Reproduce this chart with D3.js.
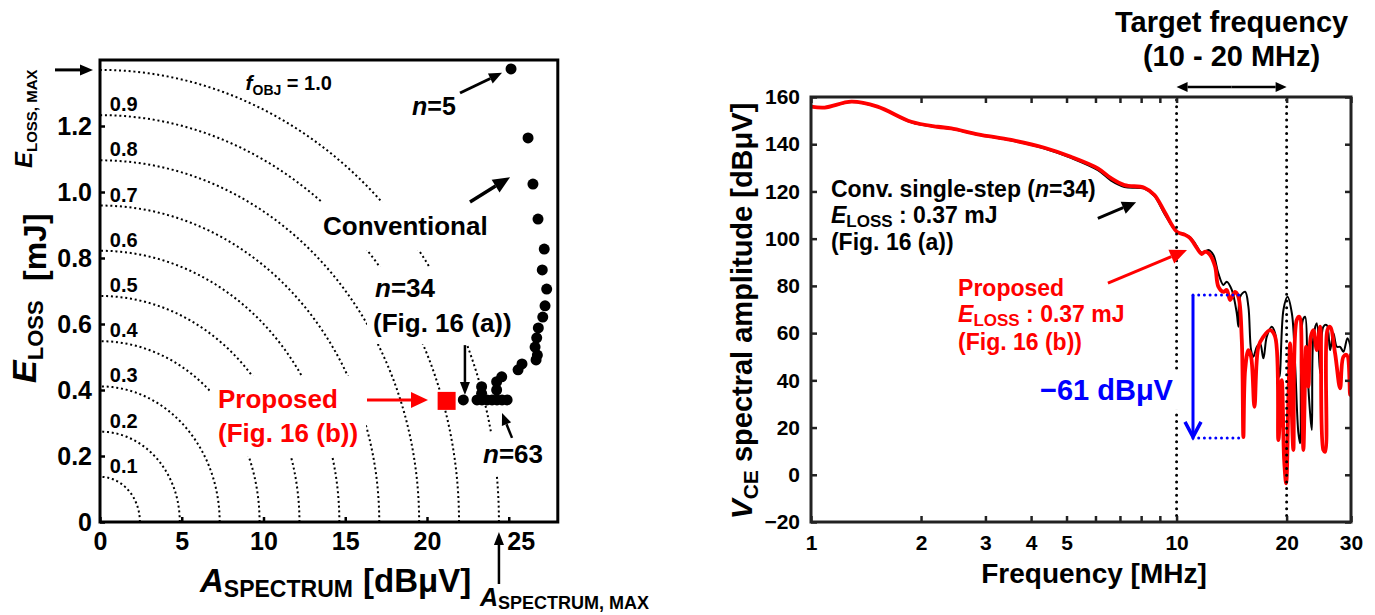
<!DOCTYPE html>
<html>
<head>
<meta charset="utf-8">
<script src="https://cdn.jsdelivr.net/npm/d3@7/dist/d3.min.js"></script>
<style>
  html, body { margin: 0; padding: 0; background: #fff; }
  svg { display: block; font-family: "Liberation Sans", Arial, sans-serif; font-weight: bold; }
</style>
</head>
<body>
<svg id="chart" width="1375" height="615"></svg>
<script>
// ---------- left panel: E_LOSS vs A_SPECTRUM ----------
const convA = [25.14, 26.18, 26.48, 26.79, 27.17, 27.05, 27.32, 27.22, 27.08, 26.81, 26.71, 26.61,
  26.75, 26.67, 25.81, 25.57, 24.57, 24.26, 23.34, 23.34, 24.26, 23.06, 23.36, 23.67, 23.98,
  24.28, 24.59, 24.90, 22.22];
const convE = [1.373, 1.164, 1.024, 0.918, 0.827, 0.764, 0.706, 0.655, 0.621, 0.588, 0.558, 0.530,
  0.506, 0.491, 0.479, 0.461, 0.440, 0.425, 0.410, 0.390, 0.400, 0.370, 0.370, 0.370, 0.370,
  0.370, 0.370, 0.370, 0.370];
const propA = [21.2];
const propE = [0.367];
const aSpecMax = 24.4;
const eLossMax = 1.37;
const fObjLevels = [0.1, 0.2, 0.3, 0.4, 0.5, 0.6, 0.7, 0.8, 0.9, 1.0];
const leftXTicks = [0, 5, 10, 15, 20, 25];
const leftYTicks = [0, 0.2, 0.4, 0.6, 0.8, 1.0, 1.2];

// ---------- right panel: V_CE spectrum ----------
const convFreq = [1.00, 1.09, 1.29, 1.52, 1.88, 2.22, 2.42, 2.86, 3.53, 4.35, 5.14, 6.09, 6.62, 7.20,
  8.16, 8.70, 9.27, 10.01, 10.55, 10.89, 11.23, 11.72, 12.22, 12.61, 13.01, 13.43, 13.72, 14.16,
  14.61, 14.76, 14.92, 15.40, 15.72, 15.99, 16.22, 16.58, 16.92, 17.28, 17.65, 18.21, 18.60, 19.11,
  19.60, 20.10, 20.67, 21.09, 21.54, 21.78, 22.15, 22.47, 22.80, 23.19, 23.44, 23.68, 24.19, 24.70,
  25.21, 25.76, 26.30, 26.85, 27.44, 28.01, 28.60, 29.33, 29.83, 30.0];
const convAmp = [155.9, 155.4, 157.9, 155.8, 149.3, 147.2, 146.5, 144.0, 141.6, 138.2, 134.2, 129.0,
  124.6, 121.9, 121.2, 118.0, 110.5, 103.0, 101.8, 100.6, 98.0, 94.0, 95.2, 93.1, 85.3, 80.4, 81.8,
  78.3, 68.4, 62.7, 75.4, 77.5, 71.2, 52.8, 50.0, 54.2, 55.6, 49.3, 58.5, 62.7, 59.9, 41.5, 69.8,
  75.4, 68.4, 47.2, 17.6, 13.3, 65.6, 66.9, 44.4, 26.0, 19.0, 58.5, 64.2, 43.0, 62.7, 63.4, 52.8,
  59.9, 54.2, 54.2, 52.1, 57.8, 55.0, 52.1];
const propFreq = [1.00, 1.09, 1.29, 1.52, 1.88, 2.22, 2.42, 2.86, 3.53, 4.35, 5.14, 6.09, 6.62, 7.20,
  8.16, 8.70, 9.27, 10.01, 10.55, 10.89, 11.23, 11.72, 11.97, 12.35, 12.75, 13.01, 13.43, 13.72,
  14.01, 14.45, 14.76, 15.08, 15.23, 15.40, 15.72, 15.99, 16.33, 16.74, 17.28, 18.02, 18.60, 18.99,
  19.40, 19.69, 19.94, 20.23, 20.44, 20.67, 20.87, 21.32, 21.68, 22.01, 22.23, 22.61, 22.94, 23.29,
  23.68, 24.19, 24.70, 25.21, 25.49, 25.86, 26.30, 27.14, 28.01, 28.60, 29.22, 29.83, 30.0];
const propAmp = [155.9, 155.5, 158.0, 155.9, 149.5, 147.4, 146.7, 144.2, 141.8, 138.5, 134.7, 129.8,
  125.6, 122.7, 121.6, 118.5, 111.4, 103.0, 101.6, 100.2, 97.3, 93.5, 94.5, 93.1, 88.1, 79.7, 77.5,
  78.3, 74.0, 77.5, 75.4, 57.1, 16.0, 44.4, 52.8, 50.0, 28.8, 54.2, 58.5, 61.3, 58.5, 14.7, 40.1,
  6.3, -3.6, 33.1, 55.6, 26.0, 10.5, 65.6, 66.9, 44.4, 10.5, 54.2, 37.3, 58.5, 61.3, 52.8, 62.7,
  10.5, 9.8, 61.3, 62.7, 51.4, 36.6, 50.0, 50.7, 33.8, 51.4];
const freqTicks = [1, 2, 3, 4, 5, 6, 7, 8, 9, 10, 20, 30];
const freqLabels = [1, 2, 3, 4, 5, 10, 20, 30];
const ampTicks = [-20, 0, 20, 40, 60, 80, 100, 120, 140, 160];
const targetBand = [10, 20];
const reduction = { f: 11.09, top: 76.1, bottom: 15.6, topEnd: 14.8, bottomEnd: 15.2 };

const svg = d3.select("#chart");

function arrow(g, x1, y1, x2, y2, color, w, hl, hw) {
  const ang = Math.atan2(y2 - y1, x2 - x1);
  const bx = x2 - hl * Math.cos(ang), by = y2 - hl * Math.sin(ang);
  g.append("line").attr("x1", x1).attr("y1", y1).attr("x2", bx).attr("y2", by)
    .attr("stroke", color).attr("stroke-width", w);
  const px = -Math.sin(ang) * hw / 2, py = Math.cos(ang) * hw / 2;
  g.append("path").attr("d", `M${x2},${y2}L${bx + px},${by + py}L${bx - px},${by - py}Z`).attr("fill", color);
}

function rich(g, x, y, parts, opts = {}) {
  const t = g.append("text").attr("x", x).attr("y", y).attr("fill", opts.fill || "#000");
  if (opts.anchor) t.attr("text-anchor", opts.anchor);
  if (opts.rotate) t.attr("transform", `rotate(-90,${x},${y})`);
  parts.forEach(p => {
    const s = t.append("tspan").text(p.t).attr("font-size", p.size);
    if (p.italic) s.attr("font-style", "italic");
    if (p.dy) s.attr("dy", p.dy);
    if (p.dx) s.attr("dx", p.dx);
  });
  return t;
}

// ================= LEFT =================
const xL = d3.scaleLinear().domain([0, 28]).range([100, 557.8]);
const yL = d3.scaleLinear().domain([0, 1.4]).range([522, 60]);
const left = svg.append("g");

left.append("clipPath").attr("id", "clipL").append("rect")
  .attr("x", xL(0)).attr("y", yL(1.4)).attr("width", xL(28) - xL(0)).attr("height", yL(0) - yL(1.4));

// f_OBJ contour arcs
const arcLine = d3.line().x(d => xL(d[0])).y(d => yL(d[1]));
const arcs = left.append("g").attr("clip-path", "url(#clipL)");
fObjLevels.forEach(k => {
  const pts = d3.range(0, 91).map(i => {
    const t = i / 90 * Math.PI / 2;
    return [k * aSpecMax * Math.cos(t), k * eLossMax * Math.sin(t)];
  });
  arcs.append("path").attr("d", arcLine(pts)).attr("fill", "none")
    .attr("stroke", "#000").attr("stroke-width", 2).attr("stroke-dasharray", "2,2.8");
});

// contour labels
fObjLevels.filter(k => k < 1).forEach(k => {
  left.append("text").attr("x", xL(0.6)).attr("y", yL(k * eLossMax) - 4)
    .attr("font-size", 20).text(k.toFixed(1));
});
rich(left, xL(8.9), yL(1.31), [
  { t: "f", size: 21, italic: true }, { t: "OBJ", size: 14, dy: 5 }, { t: " = 1.0", size: 20, dy: -5 }
]);

// text labels with white boxes to break the dotted arcs
const boxes = left.append("g");
const labels = left.append("g");
function boxed(nodes, pad) {
  const bb = nodes.map(n => n.node().getBBox());
  const x0 = d3.min(bb, b => b.x) - pad, x1 = d3.max(bb, b => b.x + b.width) + pad;
  const y0 = d3.min(bb, b => b.y) - pad, y1 = d3.max(bb, b => b.y + b.height) + pad;
  boxes.append("rect").attr("x", x0).attr("y", y0).attr("width", x1 - x0).attr("height", y1 - y0).attr("fill", "#fff");
}
boxed([labels.append("text").attr("x", 323).attr("y", 235).attr("font-size", 26).text("Conventional")], 9);
boxed([
  rich(labels, 375, 297, [{ t: "n", size: 26, italic: true }, { t: "=34", size: 26 }]),
  labels.append("text").attr("x", 373).attr("y", 332).attr("font-size", 26).text("(Fig. 16 (a))")
], 6);
boxed([rich(labels, 483, 463, [{ t: "n", size: 26, italic: true }, { t: "=63", size: 26 }])], 6);
boxed([
  labels.append("text").attr("x", 218).attr("y", 408).attr("font-size", 26).attr("fill", "#ff0000").text("Proposed"),
  labels.append("text").attr("x", 218).attr("y", 442).attr("font-size", 26).attr("fill", "#ff0000").text("(Fig. 16 (b))")
], 8);
rich(labels, 412, 115, [{ t: "n", size: 25, italic: true }, { t: "=5", size: 25 }]);

// points
left.append("g").selectAll("circle").data(convA.map((a, i) => [a, convE[i]])).join("circle")
  .attr("cx", d => xL(d[0])).attr("cy", d => yL(d[1])).attr("r", 5.5).attr("fill", "#000");
left.append("g").selectAll("rect").data(propA.map((a, i) => [a, propE[i]])).join("rect")
  .attr("x", d => xL(d[0]) - 9).attr("y", d => yL(d[1]) - 9).attr("width", 18).attr("height", 18)
  .attr("fill", "#ff0000");

// arrows
arrow(left, xL(22.02), yL(1.300), xL(24.59), yL(1.361), "#000", 3, 13, 11);
arrow(left, xL(22.63), yL(0.970), xL(25.08), yL(1.045), "#000", 3.5, 17, 15);
arrow(left, xL(22.32), yL(0.536), xL(22.32), yL(0.385), "#000", 2.5, 13, 10);
arrow(left, xL(25.20), yL(0.255), xL(24.59), yL(0.330), "#000", 2.5, 12, 10);
arrow(left, xL(16.33), yL(0.370), xL(20.06), yL(0.370), "#ff0000", 3, 17, 16);
arrow(left, xL(0) - 45, yL(eLossMax), xL(0) - 7, yL(eLossMax), "#000", 3, 13, 11);
arrow(left, xL(aSpecMax), yL(0) + 62, xL(aSpecMax), yL(0) + 10, "#000", 2.5, 13, 10);

// axes
const axL = left.append("g");
const bx = axL.append("g").attr("transform", `translate(0,${yL(0)})`)
  .call(d3.axisBottom(xL).tickValues(leftXTicks).tickSize(-5).tickPadding(10));
const by = axL.append("g").attr("transform", `translate(${xL(0)},0)`)
  .call(d3.axisLeft(yL).tickValues(leftYTicks).tickSize(-5).tickPadding(8)
    .tickFormat(d => d === 0 ? "0" : d.toFixed(1)));
[bx, by].forEach(a => {
  a.select(".domain").remove();
  a.selectAll("text").attr("font-family", null).attr("font-size", 25).attr("fill", "#000");
  a.selectAll("line").attr("stroke", "#000").attr("stroke-width", 2.5);
});
// the 25 label sits to the right of the A_SPECTRUM,MAX arrow
bx.selectAll(".tick text").filter(d => d === 25).attr("dx", 12);
left.append("rect").attr("x", xL(0)).attr("y", yL(1.4)).attr("width", xL(28) - xL(0))
  .attr("height", yL(0) - yL(1.4)).attr("fill", "none").attr("stroke", "#000").attr("stroke-width", 3);

// axis titles
rich(left, 200, 592, [{ t: "A", size: 33, italic: true }, { t: "SPECTRUM", size: 23, dy: 5 }]);
left.append("text").attr("x", 363).attr("y", 592).attr("font-size", 33).text("[dBμV]");
rich(left, 480, 606, [{ t: "A", size: 25, italic: true }, { t: "SPECTRUM, MAX", size: 18, dy: 3 }]);
rich(left, 36, 383, [{ t: "E", size: 34, italic: true }, { t: "LOSS", size: 22, dy: 7 }], { rotate: true });
rich(left, 46, 281, [{ t: "[mJ]", size: 32 }], { rotate: true });
rich(left, 32, 168, [{ t: "E", size: 24, italic: true }, { t: "LOSS, MAX", size: 15, dy: 5 }], { rotate: true });

// ================= RIGHT =================
const xR = d3.scaleLog().domain([1, 30]).range([811, 1351]);
const yR = d3.scaleLinear().domain([-20, 160]).range([522, 97]);
const right = svg.append("g");
right.append("clipPath").attr("id", "clipR").append("rect")
  .attr("x", xR(1)).attr("y", yR(160)).attr("width", xR(30) - xR(1)).attr("height", yR(-20) - yR(160));

const specLine = d3.line().x(d => xR(d[0])).y(d => yR(d[1])).curve(d3.curveCatmullRom.alpha(0.5));
const curves = right.append("g").attr("clip-path", "url(#clipR)");
curves.append("path").attr("d", specLine(convFreq.map((f, i) => [f, convAmp[i]])))
  .attr("fill", "none").attr("stroke", "#000").attr("stroke-width", 2);
curves.append("path").attr("d", specLine(propFreq.map((f, i) => [f, propAmp[i]])))
  .attr("fill", "none").attr("stroke", "#ff0000").attr("stroke-width", 3.8);

// target band dotted lines
targetBand.forEach(f => {
  right.append("line").attr("x1", xR(f)).attr("x2", xR(f)).attr("y1", yR(160) + 3).attr("y2", yR(-20))
    .attr("stroke", "#000").attr("stroke-width", 3).attr("stroke-linecap", "round")
    .attr("stroke-dasharray", "0,6.7");
});

// reduction annotation
[[reduction.top, reduction.topEnd], [reduction.bottom, reduction.bottomEnd]].forEach(([v, fe]) => {
  right.append("line").attr("x1", xR(reduction.f)).attr("x2", xR(fe)).attr("y1", yR(v)).attr("y2", yR(v))
    .attr("stroke", "#0000ff").attr("stroke-width", 3).attr("stroke-linecap", "round")
    .attr("stroke-dasharray", "0,5.7");
});
const rx = xR(reduction.f), tipY = yR(reduction.bottom);
right.append("line").attr("x1", rx).attr("x2", rx).attr("y1", yR(reduction.top)).attr("y2", tipY - 1)
  .attr("stroke", "#0000ff").attr("stroke-width", 3);
right.append("path").attr("d", `M${rx - 8},${tipY - 16}L${rx},${tipY - 1}L${rx + 8},${tipY - 16}`)
  .attr("fill", "none").attr("stroke", "#0000ff").attr("stroke-width", 3.5);

const dbText = right.append("text").attr("x", xR(4.23)).attr("y", yR(31.7)).attr("font-size", 29)
  .attr("fill", "#0000ff").text("\u221261 dB\u03bcV");
const dbb = dbText.node().getBBox();
right.insert("rect", "text").attr("x", dbb.x - 4).attr("y", dbb.y - 4)
  .attr("width", xR(10) + 4 - dbb.x + 4).attr("height", dbb.height + 8).attr("fill", "#fff");

// annotations
const txR = right.append("g");
txR.append("text").attr("x", xR(1.134)).attr("y", yR(117.6)).attr("font-size", 23)
  .selectAll("tspan").data([["Conv. single-step (", false], ["n", true], ["=34)", false]]).join("tspan")
  .attr("font-style", d => d[1] ? "italic" : null).text(d => d[0]);
rich(txR, xR(1.134), yR(106.6), [{ t: "E", size: 23, italic: true }, { t: "LOSS", size: 17, dy: 4 }, { t: " : 0.37 mJ", size: 23, dy: -4 }]);
txR.append("text").attr("x", xR(1.134)).attr("y", yR(95.2)).attr("font-size", 23).text("(Fig. 16 (a))");
txR.append("text").attr("x", xR(2.525)).attr("y", yR(75.7)).attr("font-size", 23).attr("fill", "#ff0000").text("Proposed");
rich(txR, xR(2.525), yR(64.7), [{ t: "E", size: 23, italic: true }, { t: "LOSS", size: 17, dy: 4 }, { t: " : 0.37 mJ", size: 23, dy: -4 }], { fill: "#ff0000" });
txR.append("text").attr("x", xR(2.525)).attr("y", yR(52.8)).attr("font-size", 23).attr("fill", "#ff0000").text("(Fig. 16 (b))");

arrow(right, xR(6.09), yR(108.6), xR(7.75), yR(115.4), "#000", 3, 14, 13);
arrow(right, xR(6.49), yR(81.2), xR(10.68), yR(95.2), "#ff0000", 3, 17, 15);

// target frequency header
const midX = (xR(targetBand[0]) + xR(targetBand[1])) / 2;
right.append("text").attr("x", midX).attr("y", 32).attr("text-anchor", "middle").attr("font-size", 29).text("Target frequency");
right.append("text").attr("x", midX).attr("y", 66).attr("text-anchor", "middle").attr("font-size", 29).text("(10 - 20 MHz)");
arrow(right, midX, 87, xR(targetBand[0]), 87, "#000", 2.5, 11, 10);
arrow(right, midX, 87, xR(targetBand[1]), 87, "#000", 2.5, 11, 10);

// axes
const axR = right.append("g");
const rb = axR.append("g").attr("transform", `translate(0,${yR(-20)})`)
  .call(d3.axisBottom(xR).tickValues(freqTicks).tickSize(-6).tickPadding(13)
    .tickFormat(d => freqLabels.includes(d) ? d : ""));
const rt = axR.append("g").attr("transform", `translate(0,${yR(160)})`)
  .call(d3.axisTop(xR).tickValues(freqTicks).tickSize(-6).tickFormat(""));
const rl = axR.append("g").attr("transform", `translate(${xR(1)},0)`)
  .call(d3.axisLeft(yR).tickValues(ampTicks).tickSize(-6).tickPadding(11));
const rr = axR.append("g").attr("transform", `translate(${xR(30)},0)`)
  .call(d3.axisRight(yR).tickValues(ampTicks).tickSize(-6).tickFormat(""));
[rb, rt, rl, rr].forEach(a => {
  a.select(".domain").remove();
  a.selectAll("text").attr("font-family", null).attr("font-size", 21).attr("fill", "#000");
  a.selectAll("line").attr("stroke", "#222").attr("stroke-width", 2.5);
});
right.append("rect").attr("x", xR(1)).attr("y", yR(160)).attr("width", xR(30) - xR(1))
  .attr("height", yR(-20) - yR(160)).attr("fill", "none").attr("stroke", "#222").attr("stroke-width", 3);

right.append("text").attr("x", 1094).attr("y", 583).attr("text-anchor", "middle").attr("font-size", 28).text("Frequency [MHz]");
rich(right, 752, 311, [{ t: "V", size: 30, italic: true }, { t: "CE", size: 21, dy: 6 }, { t: " spectral amplitude [dB\u03bcV]", size: 29, dy: -6 }], { rotate: true, anchor: "middle" });
</script>
</body>
</html>
